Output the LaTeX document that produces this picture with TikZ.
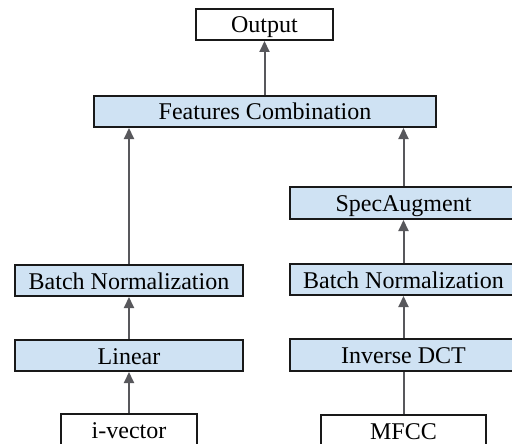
\documentclass[tikz,border=0pt]{standalone}
\usepackage{fontspec}
\setmainfont{Liberation Serif}
\usetikzlibrary{arrows.meta}
\definecolor{boxblue}{RGB}{207,226,243}
\definecolor{boxline}{RGB}{25,25,25}
\definecolor{arrowgray}{RGB}{88,88,92}
\begin{document}
\begin{tikzpicture}[x=1pt,y=-1pt,
  base/.style={draw=boxline,line width=2pt,inner sep=0pt,minimum height=31pt,
    text height=17pt,text depth=0pt,
    font=\fontsize{24}{28}\selectfont,text=black},
  plainbox/.style={base,fill=white},
  bluebox/.style={base,fill=boxblue,minimum width=228pt},
  conn/.style={draw=arrowgray,line width=2pt},
  arr/.style={conn,-{Triangle[length=11pt,width=10pt]}}]
\useasboundingbox (0,0) rectangle (512,444);
\clip (0,0) rectangle (512,444);
\node[plainbox,minimum width=137pt] (out) at (264.5,24.5) {Output};
\node[bluebox,minimum width=342pt] (fc) at (265,111.5) {Features Combination};
\node[bluebox,minimum height=32pt] (spec) at (403.5,203) {SpecAugment};
\node[bluebox] (lbn) at (129,280.5) {Batch Normalization};
\node[bluebox] (rbn) at (403.5,279.5) {Batch Normalization};
\node[bluebox] (lin) at (129,355.5) {Linear};
\node[bluebox,minimum height=32pt] (idct) at (403.5,355) {Inverse DCT};
\node[plainbox,minimum width=136pt] (iv) at (129,429.5) {i-vector};
\node[plainbox,minimum width=165pt] (mfcc) at (403.5,430.5) {MFCC};
\draw[arr] (fc.north -| out.south) -- (out.south);
\draw[arr] (lbn.north) -- (lbn.north |- fc.south);
\draw[arr] (spec.north) -- (spec.north |- fc.south);
\draw[arr] (rbn.north) -- (spec.south);
\draw[arr] (idct.north) -- (rbn.south);
\draw[conn] (mfcc.north) -- (idct.south);
\draw[arr] (lin.north) -- (lbn.south);
\draw[arr] (iv.north) -- (lin.south);
\end{tikzpicture}
\end{document}
